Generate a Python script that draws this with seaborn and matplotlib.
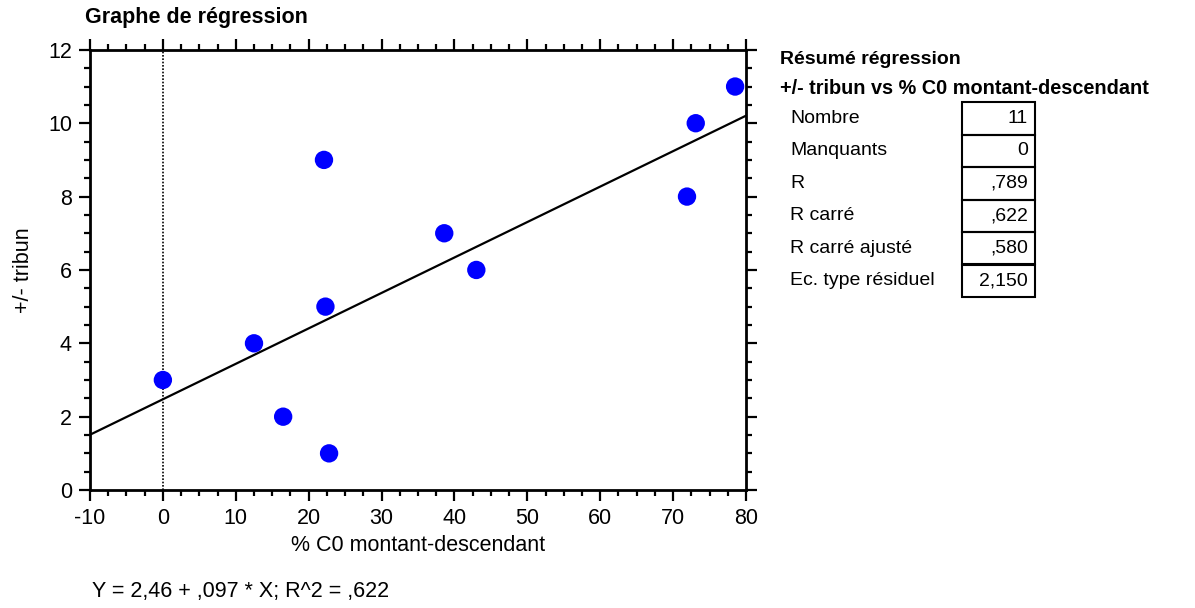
import matplotlib
matplotlib.use("Agg")
import matplotlib.pyplot as plt
import seaborn as sns
import pandas as pd
from matplotlib.ticker import MultipleLocator

# data
pct_c0 = [0, 12.5, 16.5, 22.1, 22.3, 22.8, 38.6, 43.0, 71.9, 73.1, 78.5]
tribun = [3, 4, 2, 9, 5, 1, 7, 6, 8, 10, 11]

summary_labels = ["Nombre", "Manquants", "R", "R carré", "R carré ajusté", "Ec. type résiduel"]
summary_values = ["11", "0", ",789", ",622", ",580", "2,150"]
equation = "Y = 2,46 + ,097 * X; R^2 = ,622"

df = pd.DataFrame({"x": pct_c0, "y": tribun})

sns.set_style("white")
plt.rcParams["font.family"] = ["Liberation Sans", "DejaVu Sans"]
plt.rcParams["axes.unicode_minus"] = False
plt.rcParams["text.color"] = "black"
plt.rcParams["axes.labelcolor"] = "black"
plt.rcParams["xtick.color"] = "black"
plt.rcParams["ytick.color"] = "black"

fig = plt.figure(figsize=(11.95, 6.08), dpi=100)
ax = fig.add_axes([0.0753, 0.194, 0.549, 0.724])
ax.set_xlim(-10, 80)
ax.set_ylim(0, 12)

ax.axvline(0, color="black", linestyle=(0, (1, 1)), linewidth=1.2)
sns.regplot(data=df, x="x", y="y", ax=ax, ci=None, truncate=False,
            scatter_kws={"s": 175, "color": "#0000ff", "alpha": 1, "edgecolor": "none", "zorder": 3},
            line_kws={"color": "black", "linewidth": 1.6})

ax.set_xlim(-10, 80)
ax.set_ylim(0, 12)
ax.xaxis.set_major_locator(MultipleLocator(10))
ax.xaxis.set_minor_locator(MultipleLocator(2.5))
ax.yaxis.set_major_locator(MultipleLocator(2))
ax.yaxis.set_minor_locator(MultipleLocator(0.5))
ax.tick_params(which="both", direction="out", top=True, right=True, bottom=True, left=True,
               labeltop=False, labelright=False, width=1.6, color="black")
ax.tick_params(which="major", length=8, labelsize=15.5, pad=5, labelcolor="black")
ax.tick_params(which="minor", length=4)
for sp in ax.spines.values():
    sp.set_linewidth(2)
    sp.set_color("black")

ax.set_xlabel("% C0 montant-descendant", fontsize=15.5, labelpad=4)
ax.set_ylabel("+/- tribun", fontsize=15.5, labelpad=10)

fig.text(85 / 1195, 1 - 18 / 608, "Graphe de régression", fontsize=15.5, fontweight="bold",
         ha="left", va="center")
fig.text(92 / 1195, 1 - 592 / 608, equation, fontsize=15.5, ha="left", va="center")

# summary table
fig.text(780 / 1195, 1 - 60 / 608, "Résumé régression", fontsize=14, fontweight="bold",
         ha="left", va="center")
fig.text(780 / 1195, 1 - 88 / 608, "+/- tribun vs % C0 montant-descendant", fontsize=14.3,
         fontweight="bold", ha="left", va="center")
row_top = 102
row_h = 32.5
for i, (lab, val) in enumerate(zip(summary_labels, summary_values)):
    yc = row_top + row_h * (i + 0.5)
    fig.text(790 / 1195, 1 - yc / 608, lab, fontsize=14, ha="left", va="center")
    fig.text(1028 / 1195, 1 - yc / 608, val, fontsize=14, ha="right", va="center")
    fig.add_artist(plt.Rectangle((962 / 1195, 1 - (row_top + row_h * (i + 1)) / 608),
                                 73 / 1195, row_h / 608, transform=fig.transFigure,
                                 fill=False, edgecolor="black", linewidth=1.5))

fig.savefig("out.png", dpi=100)
